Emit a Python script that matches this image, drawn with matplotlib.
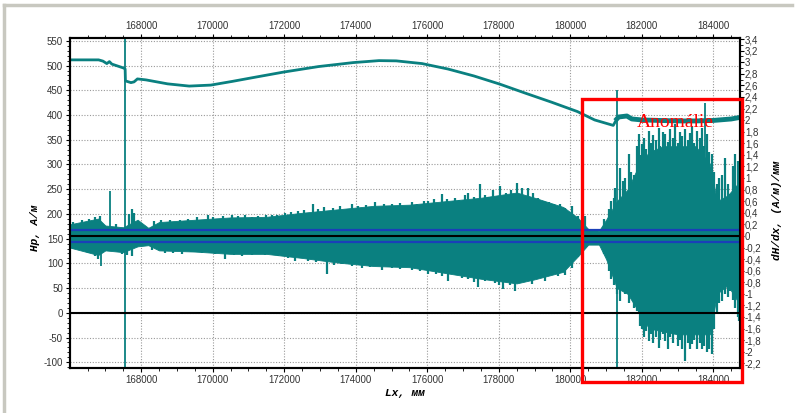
import numpy as np
import matplotlib
matplotlib.use("Agg")
import matplotlib.pyplot as plt
from matplotlib.ticker import MultipleLocator, FuncFormatter
from matplotlib.patches import Rectangle
from matplotlib.transforms import blended_transform_factory
from matplotlib.lines import Line2D

plt.rcParams["axes.unicode_minus"] = False

# field Hp along the pipe, left axis (A/m)
h_x = [166000, 166810, 166931, 167040, 167112, 167180, 167510, 167552, 167560,
       167715, 167800, 167896, 168137, 168740, 169343, 169946, 170549, 171152,
       171995, 172960, 173926, 174650, 175132, 175855, 176579, 177303, 178026,
       178750, 179473, 180197, 180680, 181200, 181300, 181350, 181580, 181720,
       182000, 182500, 183000, 183500, 184000, 184500, 184730]
h_val = [511.5, 511.5, 509, 504, 508, 503, 495, 493, 469,
         465.5, 467, 473, 471, 463, 458.5, 460.5, 468, 476,
         487, 498, 506, 510, 509.5, 504, 493, 479, 462.5,
         444, 426, 407, 390, 379, 392, 396, 398, 392,
         390, 389, 388, 388, 389, 392, 395]

# gradient dH/dx, right axis ((A/m)/mm): dense band
band_x = [166000, 166800, 167000, 167500, 167900, 168200, 168500, 169500, 170500,
          171500, 172500, 173500, 174500, 175500, 176500, 177500, 178500, 179000,
          179800, 180200, 180500, 180800, 181000, 181300, 181600, 181900, 182200,
          182600, 183000, 183500, 183900, 184100, 184400, 184750]
band_hi = [0.20, 0.30, 0.18, 0.15, 0.28, 0.14, 0.24, 0.28, 0.32,
           0.33, 0.40, 0.46, 0.52, 0.54, 0.60, 0.66, 0.75, 0.66,
           0.50, 0.32, 0.12, 0.09, 0.28, 0.60, 0.80, 1.20, 1.45,
           1.55, 1.55, 1.55, 1.25, 0.60, 0.70, 0.95]
band_lo = [-0.20, -0.33, -0.25, -0.28, -0.18, -0.16, -0.25, -0.27, -0.31,
           -0.31, -0.38, -0.46, -0.52, -0.54, -0.64, -0.74, -0.82, -0.75,
           -0.62, -0.36, -0.15, -0.15, -0.40, -0.90, -1.00, -1.30, -1.60,
           -1.65, -1.70, -1.70, -1.70, -1.00, -0.85, -1.20]

# gradient peaks above the band
up_x = [166100, 166350, 166550, 166700, 166850, 167300, 167650, 167730, 167800,
        168350, 168550, 168800, 169100, 169300, 169550, 169876, 170000, 170300,
        170529, 170700, 170902, 171100, 171275, 171500, 171648, 171800, 172021,
        172200, 172394, 172550, 172813, 172950, 173100, 173350, 173550, 173886,
        174050, 174300, 174538, 174800, 175000, 175250, 175564, 175700, 175900,
        176031, 176200, 176404, 176550, 176777, 176900, 177050, 177150, 177300,
        177477, 177600, 177710, 177850, 178036, 178200, 178350, 178503, 178650,
        178829, 178950, 179109, 179250, 179400, 179550, 179700, 179855, 180042,
        180228, 180415, 180928, 181068, 181150, 181208, 181250, 181394, 181460,
        181534, 181627, 181700, 181767, 181850, 181907, 181950, 182000, 182060,
        182120, 182187, 182250, 182320, 182400, 182467, 182520, 182600, 182653,
        182720, 182800, 182870, 182933, 183000, 183060, 183130, 183213, 183280,
        183350, 183400, 183470, 183550, 183620, 183679, 183740, 183819, 183880,
        183959, 184030, 184099, 184170, 184239, 184332, 184400, 184472, 184540,
        184612, 184680, 184720]
up_val = [0.24, 0.27, 0.30, 0.33, 0.34, 0.20, 0.38, 0.46, 0.40,
          0.26, 0.27, 0.28, 0.28, 0.30, 0.32, 0.37, 0.32, 0.34,
          0.37, 0.35, 0.37, 0.33, 0.34, 0.36, 0.37, 0.36, 0.40,
          0.41, 0.43, 0.45, 0.55, 0.47, 0.50, 0.48, 0.51, 0.55,
          0.52, 0.54, 0.58, 0.55, 0.56, 0.57, 0.58, 0.55, 0.60,
          0.60, 0.63, 0.72, 0.64, 0.66, 0.62, 0.70, 0.75, 0.68,
          0.89, 0.70, 0.68, 0.80, 0.86, 0.75, 0.80, 0.92, 0.82,
          0.83, 0.75, 0.66, 0.60, 0.58, 0.55, 0.56, 0.49, 0.52,
          0.35, 0.34, 0.29, 0.46, 0.60, 0.66, 0.83, 1.18, 0.95,
          1.00, 1.41, 1.10, 1.06, 1.55, 1.76, 1.40, 1.58, 1.70,
          1.50, 1.81, 1.60, 1.75, 1.65, 1.87, 1.55, 1.80, 1.76,
          1.62, 1.85, 1.70, 1.93, 1.60, 1.80, 1.72, 1.85, 1.65,
          1.78, 1.90, 1.60, 1.82, 1.70, 1.87, 1.55, 1.76, 1.45,
          1.41, 1.10, 0.89, 1.00, 1.06, 1.35, 0.90, 0.72, 1.20,
          1.41, 1.30, 1.18]

# gradient peaks below the band
dn_x = [166100, 166300, 166518, 166700, 166798, 167171, 167451, 167600, 167730,
        168300, 168663, 168900, 169129, 169400, 169700, 170062, 170342, 170600,
        170808, 171100, 171461, 171834, 172100, 172301, 172673, 172900, 173186,
        173400, 173606, 173900, 174165, 174400, 174725, 175000, 175250, 175564,
        175800, 176031, 176250, 176400, 176590, 176800, 176964, 177150, 177300,
        177430, 177600, 177896, 178000, 178129, 178300, 178456, 178600, 178736,
        178923, 179109, 179296, 179482, 179669, 179855, 180042, 180228, 180928,
        181068, 181150, 181208, 181300, 181394, 181460, 181534, 181627, 181700,
        181767, 181850, 181907, 181950, 182000, 182060, 182120, 182187, 182250,
        182320, 182400, 182467, 182520, 182600, 182653, 182720, 182800, 182870,
        182933, 183000, 183060, 183130, 183213, 183280, 183350, 183400, 183470,
        183550, 183620, 183679, 183740, 183819, 183880, 183959, 184030, 184099,
        184170, 184239, 184332, 184400, 184472, 184540, 184612, 184680, 184720]
dn_val = [-0.22, -0.25, -0.29, -0.35, -0.40, -0.26, -0.32, -0.33, -0.35,
          -0.24, -0.29, -0.30, -0.32, -0.28, -0.29, -0.32, -0.39, -0.33,
          -0.35, -0.33, -0.33, -0.35, -0.38, -0.43, -0.43, -0.45, -0.66,
          -0.50, -0.49, -0.52, -0.55, -0.53, -0.58, -0.55, -0.57, -0.58,
          -0.60, -0.66, -0.65, -0.70, -0.78, -0.68, -0.72, -0.75, -0.80,
          -0.89, -0.78, -0.81, -0.85, -0.92, -0.85, -0.95, -0.80, -0.78,
          -0.83, -0.72, -0.78, -0.66, -0.70, -0.68, -0.55, -0.37, -0.32,
          -0.60, -0.75, -0.85, -1.00, -1.12, -0.95, -1.01, -1.15, -1.05,
          -1.24, -1.30, -1.35, -1.55, -1.60, -1.75, -1.65, -1.81, -1.70,
          -1.85, -1.75, -1.93, -1.80, -1.70, -1.81, -1.95, -1.75, -1.85,
          -1.70, -1.90, -1.80, -1.95, -2.16, -1.85, -1.95, -1.87, -1.80,
          -1.95, -1.85, -1.95, -1.90, -2.00, -1.95, -2.04, -1.60, -1.35,
          -1.15, -1.12, -1.00, -1.05, -0.95, -1.10, -1.24, -1.40, -1.47]

# single long spikes
spike_x = [166872, 167124, 167552, 181318, 183772]
spike_hi = [0.10, 0.77, 3.42, 2.52, 2.30]
spike_lo = [-0.52, -0.20, -2.28, -2.28, 0.40]

teal = "#0a8080"

fig = plt.figure(figsize=(7.98, 4.13), dpi=100)
ax1 = fig.add_axes([0.0877, 0.1097, 0.839, 0.798])
ax2 = ax1.twinx()

ax1.set_xlim(166010, 184730)
ax1.set_ylim(-111, 555.5)
ax2.set_ylim(-2.276, 3.417)

ax1.grid(True, which="major", color="#999999", linestyle=(0, (1, 1.5)), linewidth=0.8)

# Hp trace
ax1.plot(h_x, h_val, color=teal, lw=2, solid_joinstyle="round")
hx = np.array(h_x)
hv = np.array(h_val)
m = hx >= 181300
ax1.plot(hx[m], hv[m], color=teal, lw=3.5)

# gradient trace
ax2.fill_between(band_x, band_lo, band_hi, color=teal, lw=0.6, edgecolor=teal)
ax2.vlines(up_x, 0, up_val, color=teal, lw=1.6)
ax2.vlines(dn_x, dn_val, 0, color=teal, lw=1.6)
ax2.vlines(spike_x, spike_lo, spike_hi, color=teal, lw=1.3)

# threshold and zero lines
ax2.axhline(0.1, color="#1a3fb8", lw=1.6)
ax2.axhline(-0.1, color="#1a3fb8", lw=1.6)
ax2.axhline(0, color="black", lw=1.5)
tr = blended_transform_factory(ax2.transAxes, ax1.transData)
ax2.plot([0, 1], [0, 0], color="black", lw=1.5, transform=tr)

# anomaly box
ax2.add_patch(Rectangle((0.765, -0.043), 0.239, 0.858, transform=ax2.transAxes,
                        fill=False, ec="#ff0000", lw=2.4, clip_on=False, zorder=10))
ax2.text(182933, 1.88, "Anomálie", color="#ff0000", fontsize=14,
         family="Liberation Serif", ha="center", va="baseline", zorder=11)

# ticks
ax1.xaxis.set_major_locator(MultipleLocator(2000))
ax1.xaxis.set_minor_locator(MultipleLocator(500))
ax1.yaxis.set_major_locator(MultipleLocator(50))
ax1.yaxis.set_minor_locator(MultipleLocator(10))
ax2.yaxis.set_major_locator(MultipleLocator(0.2))
ax2.yaxis.set_minor_locator(MultipleLocator(0.1))


def comma_fmt(v, pos):
    if abs(v - round(v)) < 1e-6:
        return str(int(round(v)))
    return f"{v:.1f}".replace(".", ",")


ax2.yaxis.set_major_formatter(FuncFormatter(comma_fmt))
ax1.tick_params(axis="x", which="both", top=True, labeltop=True, direction="out")
ax1.tick_params(axis="both", which="major", length=3, width=0.8, pad=2,
                labelsize=7, labelcolor="#333333")
ax1.tick_params(axis="both", which="minor", length=2, width=0.6)
ax2.tick_params(axis="y", which="major", length=3, width=0.8, pad=1,
                labelsize=7, labelcolor="#333333")
ax2.tick_params(axis="y", which="minor", length=2, width=0.6)
for lab in ax1.get_xticklabels() + ax1.get_yticklabels() + ax2.get_yticklabels():
    lab.set_family("Liberation Sans")

for ax in (ax1, ax2):
    for s in ax.spines.values():
        s.set_linewidth(1.5)

lab_font = dict(family="Liberation Mono", weight="bold", style="italic", size=8)
ax1.set_xlabel("Lx, мм", **lab_font)
ax1.xaxis.set_label_coords(0.5, -0.062)
ax1.set_ylabel("Hp, A/м", **lab_font)
ax1.yaxis.set_label_coords(-0.045, 0.424)
ax2.set_ylabel("dH/dx, (A/м)/мм", rotation=90, **lab_font)
ax2.yaxis.set_label_coords(1.0486, 0.478)

# light frame of the window
fig.add_artist(Line2D([0.005, 0.005], [0.0, 0.988], color="#c8c8c0", lw=2.5))
fig.add_artist(Line2D([0.005, 0.993], [0.988, 0.988], color="#c8c8c0", lw=2.5))

fig.savefig("out.png", dpi=100)
